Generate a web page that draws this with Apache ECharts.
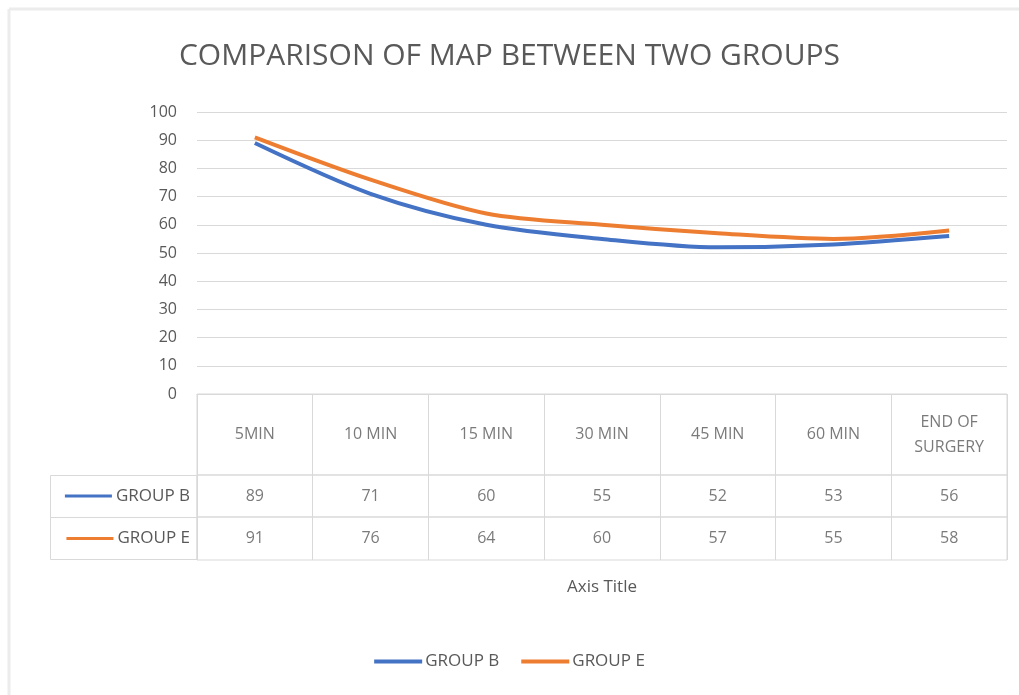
<!DOCTYPE html>
<html>
<head>
<meta charset="utf-8">
<title>Comparison of MAP between two groups</title>
<script src="https://cdn.jsdelivr.net/npm/echarts@6/dist/echarts.min.js"></script>
<style>
  html, body { margin: 0; padding: 0; background: #fff; }
  #chart { width: 1019px; height: 695px; }
</style>
</head>
<body>
<div id="chart"></div>
<script>
  // chart data
  const categories = ['5MIN', '10 MIN', '15 MIN', '30 MIN', '45 MIN', '60 MIN', 'END OF SURGERY'];
  const headerLabels = ['5MIN', '10 MIN', '15 MIN', '30 MIN', '45 MIN', '60 MIN', 'END OF\nSURGERY'];
  const groupB = [89, 71, 60, 55, 52, 53, 56];
  const groupE = [91, 76, 64, 60, 57, 55, 58];
  const yTicks = [0, 100, 10]; // min, max, interval

  const FONT = '"Open Sans", "Noto Sans", sans-serif';
  const TEXT = '#595959';
  const GRID_LINE = '#d9d9d9';
  const BLUE = '#4472C4';
  const ORANGE = '#ED7D31';

  const myChart = echarts.init(document.getElementById('chart'));

  // one grid for the plot, three for the data table rows
  const grids = [
    { left: 197, right: 12, top: 112, height: 282 },
    { left: 197, right: 12, top: 394, height: 81, show: true, borderColor: GRID_LINE, borderWidth: 1 },
    { left: 197, right: 12, top: 475, height: 42, show: true, borderColor: GRID_LINE, borderWidth: 1 },
    { left: 197, right: 12, top: 517, height: 43, show: true, borderColor: GRID_LINE, borderWidth: 1 },
  ];

  const tableXAxis = (gridIndex, extra) => Object.assign({
    type: 'category',
    gridIndex: gridIndex,
    data: categories,
    boundaryGap: true,
    axisLine: { show: false },
    axisTick: { show: false, interval: 0 },
    axisLabel: { show: false, interval: 0 },
    splitLine: { show: true, interval: 0, lineStyle: { color: GRID_LINE, width: 1 } },
  }, extra || {});

  const rowYAxis = (gridIndex, name, color) => ({
    type: 'category',
    gridIndex: gridIndex,
    data: [name],
    axisLine: { show: false },
    axisTick: { show: false },
    splitLine: { show: false },
    axisLabel: {
      margin: 7,
      formatter: (v) => '{k|}{t|' + v + '}',
      rich: {
        k: { width: 47, height: 3, backgroundColor: color },
        t: { fontFamily: FONT, fontSize: 17, color: TEXT, padding: [0, 0, 0, 4] },
      },
    },
  });

  const cellSeries = (gridIndex, values, yValue) => ({
    type: 'scatter',
    xAxisIndex: gridIndex,
    yAxisIndex: gridIndex,
    symbolSize: 1,
    itemStyle: { color: 'rgba(0,0,0,0)' },
    silent: true,
    label: {
      show: true,
      position: 'inside',
      formatter: (p) => values[p.dataIndex],
      fontFamily: FONT,
      fontSize: 16,
      lineHeight: 25,
      color: TEXT,
    },
    data: categories.map((c) => [c, yValue]),
  });

  const option = {
    backgroundColor: '#fff',
    animation: false,
    title: {
      text: 'COMPARISON OF MAP BETWEEN TWO GROUPS',
      left: 'center',
      top: 36,
      textStyle: { fontFamily: FONT, fontSize: 30, fontWeight: 'normal', color: TEXT },
    },
    legend: {
      bottom: 20,
      left: 'center',
      icon: 'rect',
      itemWidth: 48,
      itemHeight: 4,
      itemGap: 22,
      textStyle: { fontFamily: FONT, fontSize: 17, color: TEXT, padding: [0, 0, 0, -2] },
      data: ['GROUP B', 'GROUP E'],
    },
    grid: grids,
    xAxis: [
      {
        type: 'category',
        gridIndex: 0,
        data: categories,
        boundaryGap: true,
        axisLine: { show: true, lineStyle: { color: GRID_LINE } },
        axisTick: { show: false },
        axisLabel: { show: false },
      },
      tableXAxis(1),
      tableXAxis(2),
      tableXAxis(3, {
        name: 'Axis Title',
        nameLocation: 'middle',
        nameGap: 19,
        nameTextStyle: { fontFamily: FONT, fontSize: 17, color: TEXT },
      }),
    ],
    yAxis: [
      {
        type: 'value',
        gridIndex: 0,
        min: yTicks[0],
        max: yTicks[1],
        interval: yTicks[2],
        axisLine: { show: false },
        axisTick: { show: false },
        axisLabel: { fontFamily: FONT, fontSize: 16, color: TEXT, margin: 20 },
        splitLine: { lineStyle: { color: GRID_LINE, width: 1 } },
      },
      { type: 'value', gridIndex: 1, min: 0, max: 1, show: false },
      rowYAxis(2, 'GROUP B', BLUE),
      rowYAxis(3, 'GROUP E', ORANGE),
    ],
    series: [
      {
        name: 'GROUP B',
        type: 'line',
        xAxisIndex: 0,
        yAxisIndex: 0,
        smooth: 0.3,
        symbol: 'none',
        lineStyle: { width: 4, color: BLUE },
        itemStyle: { color: BLUE },
        data: groupB,
      },
      {
        name: 'GROUP E',
        type: 'line',
        xAxisIndex: 0,
        yAxisIndex: 0,
        smooth: 0.3,
        symbol: 'none',
        lineStyle: { width: 4, color: ORANGE },
        itemStyle: { color: ORANGE },
        data: groupE,
      },
      cellSeries(1, headerLabels, 0.5),
      cellSeries(2, groupB, 'GROUP B'),
      cellSeries(3, groupE, 'GROUP E'),
    ],
    graphic: [
      // outer chart frame (top and left edges visible in the picture)
      { type: 'line', shape: { x1: 9, y1: 9, x2: 1019, y2: 9 }, style: { stroke: '#ececec', lineWidth: 3 }, silent: true },
      { type: 'line', shape: { x1: 9, y1: 9, x2: 9, y2: 695 }, style: { stroke: '#ececec', lineWidth: 3 }, silent: true },
      // legend-key cells on the left of the data table
      { type: 'rect', shape: { x: 50.5, y: 475.5, width: 146.5, height: 84 }, style: { fill: 'none', stroke: GRID_LINE, lineWidth: 1 }, silent: true },
      { type: 'line', shape: { x1: 50.5, y1: 517.5, x2: 197, y2: 517.5 }, style: { stroke: GRID_LINE, lineWidth: 1 }, silent: true },
    ],
  };

  myChart.setOption(option);
  window.addEventListener('resize', () => myChart.resize());
</script>
</body>
</html>
